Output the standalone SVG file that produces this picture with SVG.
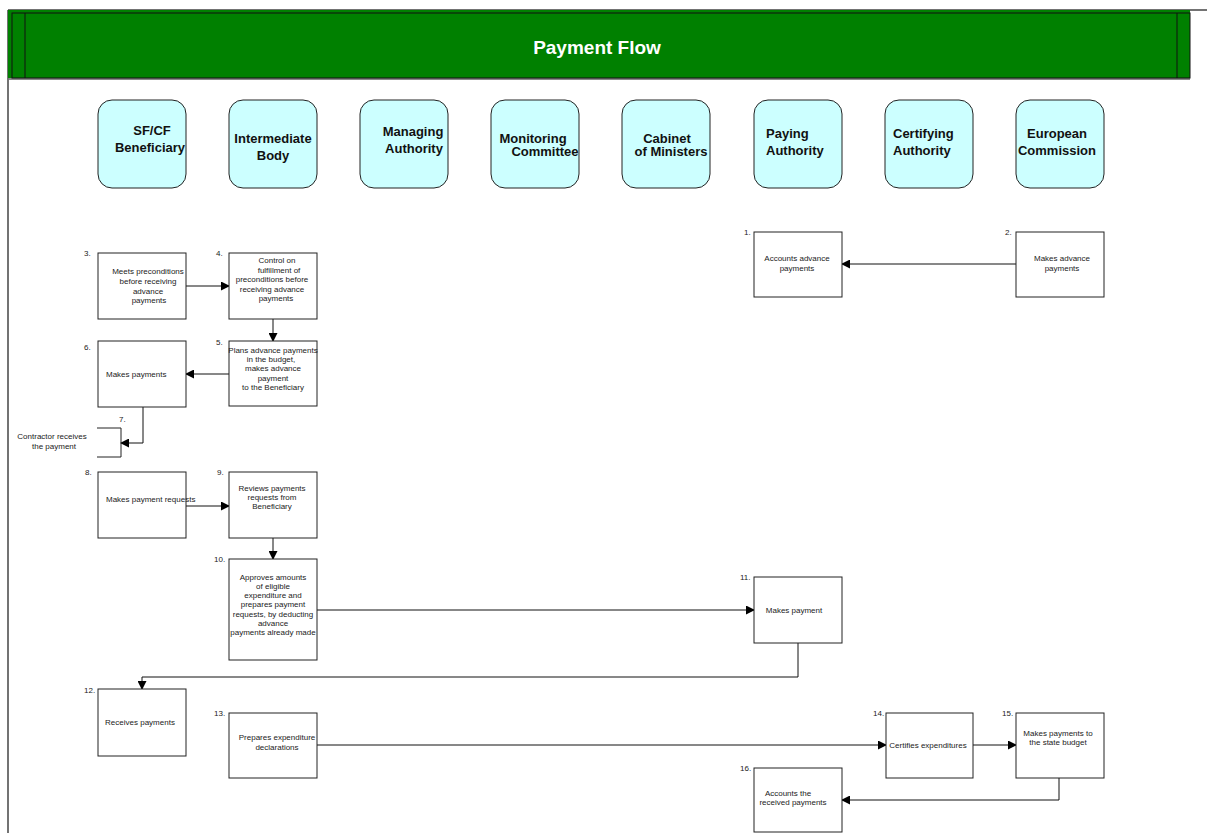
<svg xmlns="http://www.w3.org/2000/svg" width="1207" height="833" viewBox="0 0 1207 833">
<style>
.role rect{fill:#ccffff;stroke:#222;stroke-width:1}
.role text{font-family:"Liberation Sans",Arial,sans-serif;font-weight:bold;font-size:13px;fill:#111}
.box rect{fill:#fff;stroke:#222;stroke-width:1}
.box text{font-family:"Liberation Sans",Arial,sans-serif;font-size:8px;fill:#222}
.num{font-family:"Liberation Sans",Arial,sans-serif;font-size:7px;fill:#333}
.c{text-anchor:middle}
#connectors path{fill:none;stroke:#111;stroke-width:1}
</style>
<defs>
<marker id="ah" markerWidth="9" markerHeight="9" refX="8" refY="4.5" orient="auto" markerUnits="userSpaceOnUse">
<path d="M0,0 L9,4.5 L0,9 Z" fill="#000"/>
</marker>
</defs>
<rect width="1207" height="833" fill="#fff"/>
<g id="frame">
<line x1="8" y1="10" x2="1207" y2="10" stroke="#444" stroke-width="1.5"/>
<line x1="8" y1="10" x2="8" y2="833" stroke="#444" stroke-width="1.5"/>
</g>
<g id="header">
<rect x="8" y="10" width="1182" height="68" fill="#008000"/>
<line x1="9" y1="79" x2="1190" y2="79" stroke="#888" stroke-width="2"/>
<rect x="12" y="13" width="1178" height="65" fill="none" stroke="#111" stroke-width="1"/>
<line x1="25" y1="13" x2="25" y2="78" stroke="#111" stroke-width="1"/>
<line x1="1177" y1="13" x2="1177" y2="78" stroke="#111" stroke-width="1"/>
<text x="597" y="54" text-anchor="middle" font-family="Liberation Sans,Arial,sans-serif" font-weight="bold" font-size="19" fill="#fff">Payment Flow</text>
</g>
<g id="role-beneficiary" class="role"><rect x="98" y="100" width="88" height="88" rx="14"/><text x="152" y="135" class="c">SF/CF</text><text x="150" y="152" class="c">Beneficiary</text></g>
<g id="role-intermediate" class="role"><rect x="229" y="100" width="88" height="88" rx="14"/><text x="273" y="143" class="c">Intermediate</text><text x="273" y="160" class="c">Body</text></g>
<g id="role-managing" class="role"><rect x="360" y="100" width="88" height="88" rx="14"/><text x="413" y="136" class="c">Managing</text><text x="414" y="153" class="c">Authority</text></g>
<g id="role-monitoring" class="role"><rect x="491" y="100" width="88" height="88" rx="14"/><text x="533" y="143" class="c">Monitoring</text><text x="545" y="156" class="c">Committee</text></g>
<g id="role-cabinet" class="role"><rect x="622" y="100" width="88" height="88" rx="14"/><text x="667" y="143" class="c">Cabinet</text><text x="671" y="156" class="c">of Ministers</text></g>
<g id="role-paying" class="role"><rect x="754" y="100" width="88" height="88" rx="14"/><text x="766" y="138">Paying</text><text x="766" y="155">Authority</text></g>
<g id="role-certifying" class="role"><rect x="885" y="100" width="88" height="88" rx="14"/><text x="893" y="138">Certifying</text><text x="893" y="155">Authority</text></g>
<g id="role-commission" class="role"><rect x="1016" y="100" width="88" height="88" rx="14"/><text x="1057" y="138" class="c">European</text><text x="1057" y="155" class="c">Commission</text></g>

<g id="connectors">
<path d="M1016,264 H842" marker-end="url(#ah)"/>
<path d="M186,286 H229" marker-end="url(#ah)"/>
<path d="M273,319 V341" marker-end="url(#ah)"/>
<path d="M229,374 H186" marker-end="url(#ah)"/>
<path d="M143,407 V443 H121" marker-end="url(#ah)"/>
<path d="M186,506 H229" marker-end="url(#ah)"/>
<path d="M273,538 V559" marker-end="url(#ah)"/>
<path d="M317,610 H754" marker-end="url(#ah)"/>
<path d="M798,643 V677 H142 V689" marker-end="url(#ah)"/>
<path d="M317,745 H886" marker-end="url(#ah)"/>
<path d="M973,745 H1016" marker-end="url(#ah)"/>
<path d="M1059,778 V800 H842" marker-end="url(#ah)"/>
</g>

<g id="n1" class="box"><text x="744" y="235" class="num">1.</text><rect x="754" y="232" width="88" height="65"/><text x="797" y="261" class="c">Accounts advance</text><text x="797" y="271" class="c">payments</text></g>
<g id="n2" class="box"><text x="1005" y="235" class="num">2.</text><rect x="1016" y="232" width="88" height="65"/><text x="1062" y="261" class="c">Makes advance</text><text x="1062" y="271" class="c">payments</text></g>
<g id="n3" class="box"><text x="84" y="256" class="num">3.</text><rect x="98" y="253" width="88" height="66"/><text x="148" y="274" class="c">Meets preconditions</text><text x="148" y="284" class="c">before receiving</text><text x="148" y="294" class="c">advance</text><text x="149" y="303" class="c">payments</text></g>
<g id="n4" class="box"><text x="216" y="256" class="num">4.</text><rect x="229" y="253" width="88" height="66"/><text x="277" y="263" class="c">Control on</text><text x="279" y="273" class="c">fulfillment of</text><text x="272" y="282" class="c">preconditions before</text><text x="272" y="292" class="c">receiving advance</text><text x="276" y="301" class="c">payments</text></g>
<g id="n5" class="box"><text x="216" y="345" class="num">5.</text><rect x="229" y="341" width="88" height="65"/><text x="273" y="353" class="c">Plans advance payments</text><text x="271" y="362" class="c">in the budget,</text><text x="273" y="371" class="c">makes advance</text><text x="273" y="381" class="c">payment</text><text x="273" y="390" class="c">to the Beneficiary</text></g>
<g id="n6" class="box"><text x="84" y="350" class="num">6.</text><rect x="98" y="341" width="88" height="66"/><text x="106" y="377">Makes payments</text></g>
<g id="n7" class="box"><text x="119" y="422" class="num">7.</text><path d="M97,428 H121 V457 H97" fill="none" stroke="#222"/><text x="52" y="439" class="c">Contractor receives</text><text x="54" y="449" class="c">the payment</text></g>
<g id="n8" class="box"><text x="85" y="475" class="num">8.</text><rect x="98" y="472" width="88" height="66"/><text x="106" y="502">Makes payment  requests</text></g>
<g id="n9" class="box"><text x="217" y="475" class="num">9.</text><rect x="229" y="472" width="88" height="66"/><text x="272" y="491" class="c">Reviews payments</text><text x="272" y="500" class="c">requests from</text><text x="272" y="509" class="c">Beneficiary</text></g>
<g id="n10" class="box"><text x="214" y="562" class="num">10.</text><rect x="229" y="559" width="88" height="101"/><text x="273" y="580" class="c">Approves amounts</text><text x="273" y="589" class="c">of eligible</text><text x="273" y="598" class="c">expenditure and</text><text x="273" y="607" class="c">prepares payment</text><text x="273" y="617" class="c">requests, by deducting</text><text x="273" y="626" class="c">advance</text><text x="273" y="635" class="c">payments already made</text></g>
<g id="n11" class="box"><text x="740" y="580" class="num">11.</text><rect x="754" y="577" width="88" height="66"/><text x="794" y="613" class="c">Makes payment</text></g>
<g id="n12" class="box"><text x="84" y="693" class="num">12.</text><rect x="98" y="689" width="88" height="67"/><text x="140" y="725" class="c">Receives payments</text></g>
<g id="n13" class="box"><text x="214" y="716" class="num">13.</text><rect x="229" y="713" width="88" height="65"/><text x="277" y="740" class="c">Prepares expenditure</text><text x="277" y="750" class="c">declarations</text></g>
<g id="n14" class="box"><text x="873" y="716" class="num">14.</text><rect x="886" y="713" width="87" height="65"/><text x="928" y="748" class="c">Certifies expenditures</text></g>
<g id="n15" class="box"><text x="1002" y="716" class="num">15.</text><rect x="1016" y="713" width="88" height="65"/><text x="1058" y="736" class="c">Makes payments to</text><text x="1058" y="745" class="c">the state budget</text></g>
<g id="n16" class="box"><text x="740" y="771" class="num">16.</text><rect x="754" y="768" width="88" height="64"/><text x="788" y="796" class="c">Accounts the</text><text x="793" y="805" class="c">received payments</text></g>
</svg>
